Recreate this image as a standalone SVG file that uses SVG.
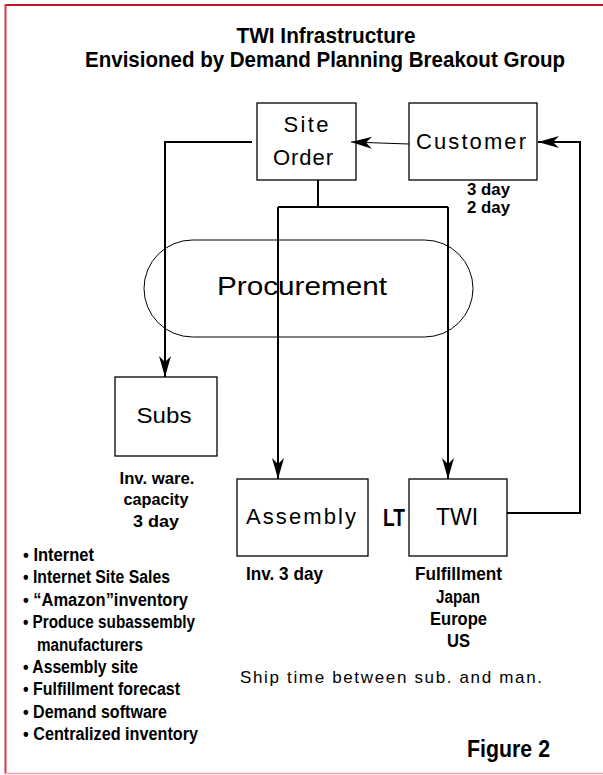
<svg xmlns="http://www.w3.org/2000/svg" width="603" height="775" viewBox="0 0 603 775">
  <defs>
    <marker id="arrowhead" viewBox="-23 -8 25 16" refX="0" refY="0" markerWidth="25" markerHeight="16" markerUnits="userSpaceOnUse" orient="auto">
      <path d="M0,0 L-21,-6 L-15,0 L-21,6 Z" fill="#000"/>
    </marker>
    <style>
      .box { fill: none; stroke: #000; stroke-width: 1.3; }
      .pill { fill: none; stroke: #000; stroke-width: 1; }
      .btxt { font-family: "Liberation Sans", Arial, sans-serif; font-size: 22px; fill: #000; }
      .lbl { font-family: "Liberation Sans", Arial, sans-serif; font-weight: bold; font-size: 18px; fill: #000; }
      .title { font-family: "Liberation Sans", Arial, sans-serif; font-weight: bold; font-size: 22px; fill: #000; }
      .note { font-family: "Liberation Sans", Arial, sans-serif; font-size: 17px; fill: #000; }
      .wire { fill: none; stroke: #000; stroke-width: 2; }
      .thin { fill: none; stroke: #000; stroke-width: 1.2; }
    </style>
  </defs>

  <rect width="603" height="775" fill="#fff"/>

  <!-- page frame -->
  <g id="frame">
    <line x1="5" y1="5" x2="603" y2="5" stroke="#c8141e" stroke-width="2"/>
    <line x1="5.5" y1="4" x2="5.5" y2="774" stroke="#d23a44" stroke-width="2"/>
    <line x1="5" y1="773.5" x2="603" y2="773.5" stroke="#eea0a6" stroke-width="1.5"/>
  </g>

  <!-- heading -->
  <g id="heading">
    <text class="title" x="326" y="43" text-anchor="middle" textLength="179" lengthAdjust="spacingAndGlyphs">TWI Infrastructure</text>
    <text class="title" x="325" y="67" text-anchor="middle" textLength="480" lengthAdjust="spacingAndGlyphs">Envisioned by Demand Planning Breakout Group</text>
  </g>

  <!-- connectors -->
  <g id="connectors">
    <path class="wire" d="M252,142 H165 V377" marker-end="url(#arrowhead)"/>
    <path class="thin" d="M409,144 L351,142" marker-end="url(#arrowhead)"/>
    <path class="wire" d="M318,180 V207"/>
    <path class="wire" d="M278,207 H448"/>
    <path class="wire" d="M278,207 V479" marker-end="url(#arrowhead)"/>
    <path class="wire" d="M448,207 V479" marker-end="url(#arrowhead)"/>
    <path class="wire" d="M507,513 H580 V142 H538" marker-end="url(#arrowhead)"/>
  </g>

  <!-- nodes -->
  <g id="site-order">
    <rect class="box" x="257" y="103" width="99" height="77"/>
    <text class="btxt" x="306" y="132" text-anchor="middle" textLength="45" lengthAdjust="spacing">Site</text>
    <text class="btxt" x="303" y="165" text-anchor="middle" textLength="60" lengthAdjust="spacing">Order</text>
  </g>

  <g id="customer">
    <rect class="box" x="409" y="103" width="128" height="77"/>
    <text class="btxt" x="471" y="149" text-anchor="middle" textLength="110" lengthAdjust="spacing">Customer</text>
  </g>

  <g id="procurement">
    <rect class="pill" x="144" y="240" width="329" height="97" rx="48.5" ry="48.5"/>
    <text class="btxt" x="302" y="295" text-anchor="middle" style="font-size:26px" textLength="170" lengthAdjust="spacingAndGlyphs">Procurement</text>
  </g>

  <g id="subs">
    <rect class="box" x="115" y="377" width="102" height="79"/>
    <text class="btxt" x="164" y="423" text-anchor="middle" textLength="55" lengthAdjust="spacingAndGlyphs">Subs</text>
  </g>

  <g id="assembly">
    <rect class="box" x="237" y="479" width="131" height="77"/>
    <text class="btxt" x="301" y="524" text-anchor="middle" textLength="110" lengthAdjust="spacing">Assembly</text>
  </g>

  <g id="twi">
    <rect class="box" x="409" y="479" width="98" height="77"/>
    <text class="btxt" x="457" y="525" text-anchor="middle" textLength="42" lengthAdjust="spacingAndGlyphs" style="font-size:23px">TWI</text>
  </g>

  <!-- annotations -->
  <g id="labels">
    <text class="lbl" x="467" y="195" style="font-size:16px" textLength="43" lengthAdjust="spacingAndGlyphs">3 day</text>
    <text class="lbl" x="467" y="212.5" style="font-size:16px" textLength="43" lengthAdjust="spacingAndGlyphs">2 day</text>

    <text class="lbl" x="157" y="484" text-anchor="middle" style="font-size:17px" textLength="75" lengthAdjust="spacingAndGlyphs">Inv. ware.</text>
    <text class="lbl" x="156" y="505" text-anchor="middle" style="font-size:17px" textLength="65" lengthAdjust="spacingAndGlyphs">capacity</text>
    <text class="lbl" x="156" y="527" text-anchor="middle" style="font-size:17px" textLength="46" lengthAdjust="spacingAndGlyphs">3 day</text>

    <text class="lbl" x="246" y="580" textLength="77" lengthAdjust="spacingAndGlyphs">Inv. 3 day</text>

    <text class="lbl" x="383" y="526" style="font-size:23px" textLength="22" lengthAdjust="spacingAndGlyphs">LT</text>

    <text class="lbl" x="458.5" y="580" text-anchor="middle" textLength="87" lengthAdjust="spacingAndGlyphs">Fulfillment</text>
    <text class="lbl" x="458" y="602.5" text-anchor="middle" textLength="44" lengthAdjust="spacingAndGlyphs">Japan</text>
    <text class="lbl" x="458.5" y="625" text-anchor="middle" textLength="57" lengthAdjust="spacingAndGlyphs">Europe</text>
    <text class="lbl" x="458.5" y="647" text-anchor="middle" textLength="23" lengthAdjust="spacingAndGlyphs">US</text>

    <text class="note" x="240" y="683" textLength="302" lengthAdjust="spacing">Ship time between sub. and man.</text>

    <text class="lbl" x="467" y="757" style="font-size:23px" textLength="83" lengthAdjust="spacingAndGlyphs">Figure 2</text>
  </g>

  <!-- bullet list -->
  <g id="bullets">
    <text class="lbl" x="23" y="561" textLength="71" lengthAdjust="spacingAndGlyphs">• Internet</text>
    <text class="lbl" x="23" y="583.4" textLength="147" lengthAdjust="spacingAndGlyphs">• Internet Site Sales</text>
    <text class="lbl" x="23" y="605.8" textLength="165" lengthAdjust="spacingAndGlyphs">• “Amazon”inventory</text>
    <text class="lbl" x="23" y="628.2" textLength="172" lengthAdjust="spacingAndGlyphs">• Produce subassembly</text>
    <text class="lbl" x="37" y="650.6" textLength="106" lengthAdjust="spacingAndGlyphs">manufacturers</text>
    <text class="lbl" x="23" y="673" textLength="115" lengthAdjust="spacingAndGlyphs">• Assembly site</text>
    <text class="lbl" x="23" y="695.4" textLength="157" lengthAdjust="spacingAndGlyphs">• Fulfillment forecast</text>
    <text class="lbl" x="23" y="717.8" textLength="144" lengthAdjust="spacingAndGlyphs">• Demand software</text>
    <text class="lbl" x="23" y="740.2" textLength="175" lengthAdjust="spacingAndGlyphs">• Centralized inventory</text>
  </g>
</svg>
